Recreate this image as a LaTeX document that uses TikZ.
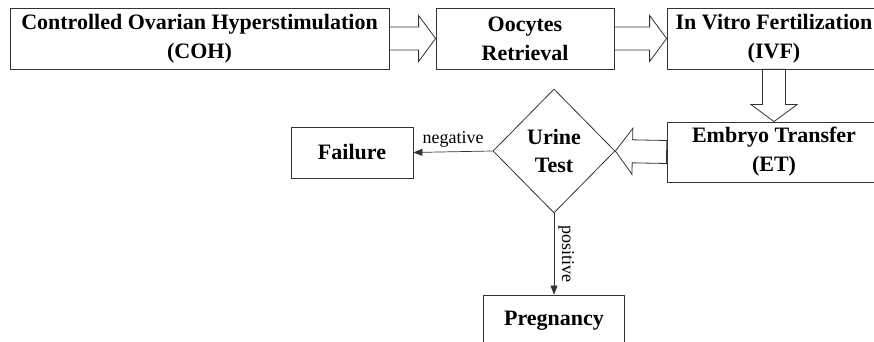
\documentclass[tikz,border=0pt]{standalone}
\usepackage{fontspec}
\setmainfont{Liberation Serif}
\usetikzlibrary{arrows.meta, shapes.geometric, calc}

\tikzset{
  stepbox/.style={draw=black!80, line width=0.8pt, fill=white, align=center, inner sep=2pt,
    font=\bfseries\fontsize{22}{29}\selectfont},
  testbox/.style={diamond, draw=black!80, line width=0.8pt, align=center, inner sep=1pt,
    minimum width=122pt, minimum height=124pt, font=\bfseries\fontsize{22}{28}\selectfont},
  fatarrow/.style={draw=black!80, line width=0.8pt, fill=white, line join=miter},
  result/.style={draw=black!80, line width=0.7pt, -{Triangle[length=9pt,width=7pt]}},
  lbl/.style={font=\fontsize{18}{20}\selectfont, inner sep=2pt}
}

% hollow block arrow from #1 to #2
\newcommand{\blockarrow}[2]{%
  \draw[fatarrow] let \p1=(#1), \p2=(#2),
      \n1={atan2(\y2-\y1,\x2-\x1)}, \n2={veclen(\x2-\x1,\y2-\y1)} in
    [shift={(\p1)}, rotate=\n1]
    (0,11.5) -- (\n2-17,11.5) -- (\n2-17,23) -- (\n2,0) -- (\n2-17,-23)
    -- (\n2-17,-11.5) -- (0,-11.5) -- cycle;}

\begin{document}
\begin{tikzpicture}[x=1pt, y=1pt]
    \useasboundingbox (0,0) rectangle (874,342);

    % steps
    \node[stepbox, minimum width=379pt, minimum height=61pt] (coh) at (199.5,303.5)
        {Controlled Ovarian Hyperstimulation\\(COH)};
    \node[stepbox, minimum width=178pt, minimum height=61pt] (ooc) at (525,303.5)
        {Oocytes\\Retrieval};
    \node[stepbox, minimum width=214pt, minimum height=61pt] (ivf) at (774,303.5)
        {In Vitro Fertilization\\(IVF)};
    \node[stepbox, minimum width=214pt, minimum height=60pt] (et) at (774,190)
        {Embryo Transfer\\(ET)};

    % test and outcomes
    \node[testbox] (test) at (554,191) {Urine\\Test};
    \node[stepbox, minimum width=122pt, minimum height=51pt] (fail) at (352,189.5) {Failure};
    \node[stepbox, minimum width=141pt, minimum height=51pt] (preg) at (554,21.5) {Pregnancy};

    % block arrows
    \blockarrow{coh.east}{ooc.west}
    \blockarrow{ooc.east}{ivf.west}
    \blockarrow{ivf.south}{et.north}
    \blockarrow{et.west}{test.east}

    % result arrows
    \draw[result] (test.west) -- (fail.east)
        node[midway, above, lbl, yshift=2pt] {negative};
    \draw[result] (test.south) -- (preg.north)
        node[midway, sloped, above, lbl, yshift=2pt] {positive};
\end{tikzpicture}
\end{document}
